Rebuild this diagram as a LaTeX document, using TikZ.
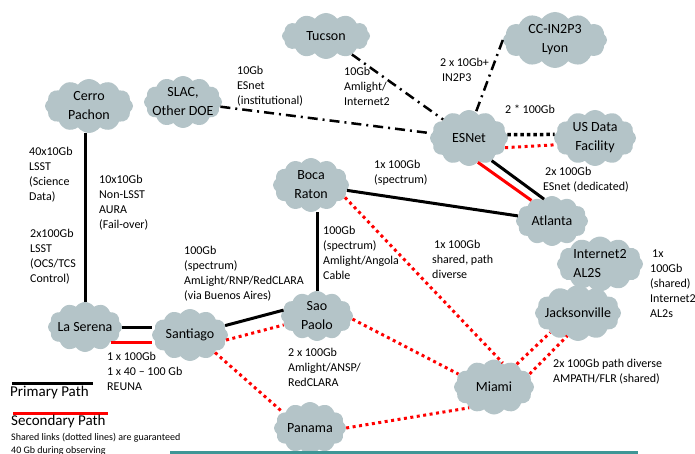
\documentclass[tikz,border=0pt]{standalone}
\usepackage{fontspec}
\setmainfont{Carlito}
\usetikzlibrary{shapes.symbols}
\definecolor{cloudgray}{RGB}{180,196,200}
\definecolor{barteal}{RGB}{62,150,150}

\begin{document}
\begin{tikzpicture}[x=1pt, y=-1pt,
  site/.style={shape=cloud, cloud puffs=12, cloud puff arc=110, cloud ignores aspect, fill=cloudgray, inner sep=0pt},
  sitetext/.style={font=\fontsize{14}{19}\selectfont, align=center},
  lbl/.style={font=\fontsize{12}{15}\selectfont, align=left, anchor=north west, inner sep=0pt},
  legend/.style={font=\fontsize{15}{18}\selectfont, anchor=west, inner sep=0pt},
  primary/.style={line width=3pt},
  secondary/.style={line width=3pt, red},
  shared/.style={line width=3pt, red, dash pattern=on 3pt off 3.5pt},
  dedicated/.style={line width=3.5pt, dash pattern=on 3.5pt off 3pt},
  esnetlink/.style={line width=2.5pt, dash pattern=on 10pt off 5pt on 2pt off 5pt}]
\useasboundingbox (0,0) rectangle (695,454);

\node[site, minimum width=88pt, minimum height=46pt, label={[sitetext]center:Tucson}] (Tucson) at (326,36) {};
\node[site, minimum width=104pt, minimum height=56pt, label={[sitetext]center:{CC-IN2P3\\Lyon}}] (Lyon) at (555,40) {};
\node[site, minimum width=88pt, minimum height=54pt, label={[sitetext]center:{Cerro\\Pachon}}] (Cerro) at (89,106) {};
\node[site, minimum width=78pt, minimum height=52pt, label={[sitetext]center:{SLAC,\\Other DOE}}] (SLAC) at (183,102) {};
\node[site, minimum width=78pt, minimum height=56pt, label={[sitetext]center:ESNet}] (ESNet) at (469,138) {};
\node[site, minimum width=82pt, minimum height=56pt, label={[sitetext]center:{US Data\\Facility}}] (USDF) at (595,138) {};
\node[site, minimum width=76pt, minimum height=54pt, label={[sitetext]center:{Boca\\Raton}}] (Boca) at (311,185) {};
\node[site, minimum width=72pt, minimum height=50pt, label={[sitetext]center:Atlanta}] (Atlanta) at (552,221) {};
\node[site, minimum width=86pt, minimum height=55pt, label={[sitetext, align=left]center:{Internet2\\AL2S}}] (AL2S) at (600,264) {};
\node[site, minimum width=86pt, minimum height=56pt, label={[sitetext]center:Jacksonville}] (Jax) at (578,313) {};
\node[site, minimum width=72pt, minimum height=50pt, label={[sitetext]center:{Sao\\Paolo}}] (Sao) at (317,316) {};
\node[site, minimum width=74pt, minimum height=50pt, label={[sitetext]center:La Serena}] (Serena) at (85,327) {};
\node[site, minimum width=76pt, minimum height=52pt, label={[sitetext]center:Santiago}] (Santiago) at (190,335) {};
\node[site, minimum width=80pt, minimum height=55pt, label={[sitetext]center:Miami}] (Miami) at (494,387) {};
\node[site, minimum width=72pt, minimum height=52pt, label={[sitetext]center:Panama}] (Panama) at (310,428) {};

\draw[primary] (Serena.north) -- (Serena.north |- Cerro.south);
\draw[esnetlink] (SLAC) -- (ESNet);
\draw[esnetlink] (Tucson) -- (ESNet);
\draw[esnetlink] (Lyon.west) -- (ESNet.75);
\draw[dedicated] (ESNet.5) -- (USDF.175);
\draw[shared] (ESNet.-15) -- (USDF.190);
\draw[primary] (ESNet.-45) -- (Atlanta.110);
\draw[secondary] (ESNet.-70) -- (Atlanta.135);
\draw[primary] (Boca) -- (Atlanta);
\draw[primary] (Sao.north) -- (Sao.north |- Boca.south);
\draw[shared] (Boca.-20) -- (Miami.70);
\draw[primary] (Serena.east) -- (Serena.east -| Santiago.west);
\draw[secondary] (Serena.-30) -- (Serena.-30 -| Santiago.west);
\draw[primary] (Santiago.15) -- (Sao.170);
\draw[shared] (Santiago.-8) -- (Sao.195);
\draw[shared] (Santiago.-35) -- (Panama.150);
\draw[shared] (Sao.-5) -- (Miami.160);
\draw[shared] (Panama.east) -- (Miami.220);
\draw[shared] (Miami.45) -- (Jax.215);
\draw[shared] (Miami.20) -- (Jax.245);

\node[lbl] (L1) at (237,66) {10Gb\\ESnet\\(institutional)};
\node[lbl] (L2) at (344,67) {10Gb\\Amlight/\\Internet2};
\node[lbl] (L3) at (440,58) {2 x 10Gb+\\\,IN2P3};
\node[lbl] (L4) at (505,105) {2 * 100Gb};
\node[lbl] (L5) at (543,167) {\,2x 100Gb\\ESnet (dedicated)};
\node[lbl] (L6) at (374,160) {1x 100Gb\\(spectrum)};
\node[lbl] (L7) at (432,240) {\,1x 100Gb\\shared, path\\diverse};
\node[lbl] (L8) at (650,250) {\,1x\\100Gb\\(shared)\\Internet2\\AL2s};
\node[lbl] (L9) at (553,359) {2x 100Gb path diverse\\AMPATH/FLR (shared)};
\node[lbl] (L10) at (323,226) {100Gb\\(spectrum)\\Amlight/Angola\\Cable};
\node[lbl] (L11) at (184,246) {100Gb\\(spectrum)\\AmLight/RNP/RedCLARA\\(via Buenos Aires)};
\node[lbl] (L12) at (288,348) {2 x 100Gb\\Amlight/ANSP/\\RedCLARA};
\node[lbl] (L13) at (107,352) {1 x 100Gb\\1 x 40 -- 100 Gb\\REUNA};
\node[lbl] (L14) at (29,147) {40x10Gb\\LSST\\(Science\\Data)};
\node[lbl] (L15) at (99,175) {10x10Gb\\Non-LSST\\AURA\\(Fail-over)};
\node[lbl] (L16) at (30,229) {2x100Gb\\LSST\\(OCS/TCS\\Control)};

\coordinate (P1) at (12,383);
\coordinate (P2) at (93,383);
\coordinate (S1) at (13,413);
\coordinate (S2) at (108,413);
\draw[primary] (P1) -- (P2);
\draw[secondary] (S1) -- (S2);
\node[legend] (Prim) at (10,392) {Primary Path};
\node[legend] (Sec) at (11,421) {Secondary Path};
\node[lbl, font=\fontsize{10}{12.5}\selectfont] (Note) at (11,433) {Shared links (dotted lines) are guaranteed\\40 Gb during observing};
\fill[barteal] (170,451) rectangle (638,455);
\end{tikzpicture}
\end{document}
